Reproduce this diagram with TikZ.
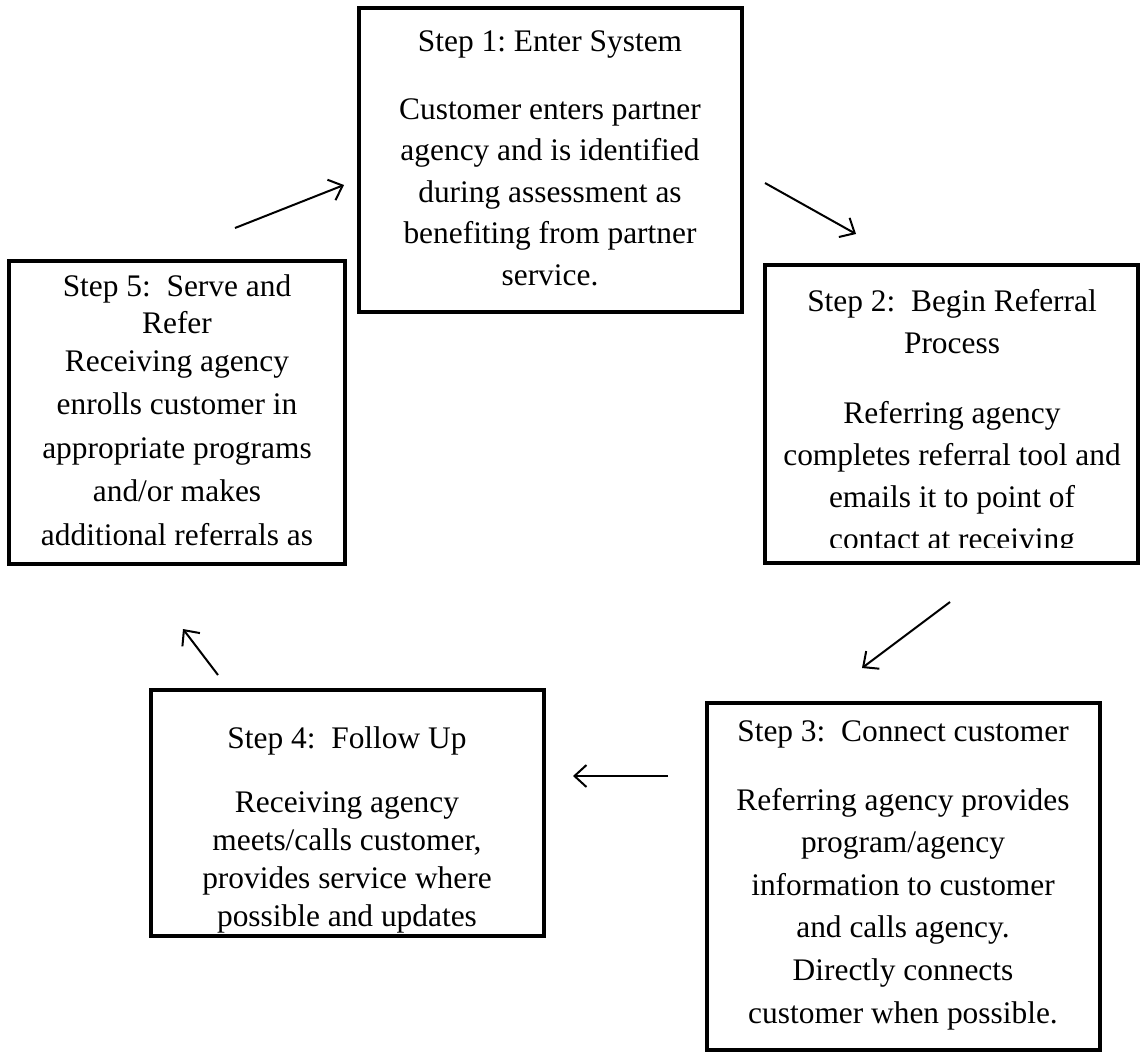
\documentclass[tikz,border=0pt]{standalone}
\usepackage{fontspec}
\setmainfont{Liberation Serif}
\usetikzlibrary{arrows.meta}
\frenchspacing
\begin{document}
\begin{tikzpicture}[x=1pt,y=-1pt,
  stepbox/.style={draw=black,line width=4pt,inner sep=0pt},
  txt/.style={anchor=base,inner sep=0pt,font=\fontsize{31.4}{41.5}\selectfont},
  flow/.style={line width=2pt,-{Straight Barb[length=12pt,width=22pt,line width=2pt]}}]
\useasboundingbox (0,0) rectangle (1141,1053);
\fill[white] (0,0) rectangle (1141,1053);
% boxes
\node[stepbox,minimum width=383pt,minimum height=304pt] (s1) at (550,160) {};
\node[stepbox,minimum width=373pt,minimum height=298pt] (s2) at (951.5,414) {};
\node[stepbox,minimum width=336pt,minimum height=303pt] (s5) at (177,412) {};
\node[stepbox,minimum width=393pt,minimum height=246pt] (s4) at (347,813) {};
\node[stepbox,minimum width=393pt,minimum height=347pt] (s3) at (903.5,876.5) {};
% Step 1
\node[txt] (s1t) at (550,51) {Step 1: Enter System};
\foreach \t [count=\i] in {Customer enters partner,agency and is identified,during assessment as,benefiting from partner,service.}
  \node[txt] (s1b\i) at (550,{119+(\i-1)*41.6}) {\t};
% Step 2
\node[txt] (s2t) at (952,311) {Step 2:~ Begin Referral};
\node[txt] (s2u) at (952,353) {Process};
\begin{scope}
\clip (765,265) rectangle (1138,547);
\foreach \t [count=\i] in {Referring agency,completes referral tool and,emails it to point of,contact at receiving}
  \node[txt] (s2b\i) at (952,{423+(\i-1)*42}) {\t};
\end{scope}
% Step 5
\node[txt] (s5t) at (177,296) {Step 5:~ Serve and};
\node[txt] (s5u) at (177,333) {Refer};
\foreach \t [count=\i] in {Receiving agency,enrolls customer in,appropriate programs,and/or makes,additional referrals as}
  \node[txt] (s5b\i) at (177,{371+(\i-1)*43.5}) {\t};
% Step 4
\node[txt] (s4t) at (347,748) {Step 4:~ Follow Up};
\foreach \t [count=\i] in {Receiving agency,{meets/calls customer,},provides service where,possible and updates}
  \node[txt] (s4b\i) at (347,{812+(\i-1)*38}) {\t};
% Step 3
\node[txt] (s3t) at (903,741) {Step 3:~ Connect customer};
\foreach \t [count=\i] in {Referring agency provides,program/agency,information to customer,and calls agency.,Directly connects,customer when possible.}
  \node[txt] (s3b\i) at (903,{810+(\i-1)*42.6}) {\t};
% arrow end points
\coordinate (a1s) at (235,228); \coordinate (a1e) at (344,185);
\coordinate (a2s) at (765,183); \coordinate (a2e) at (856,234);
\coordinate (a3s) at (950,602); \coordinate (a3e) at (862,668);
\coordinate (a4s) at (668,776); \coordinate (a4e) at (573,776);
\coordinate (a5s) at (218,675); \coordinate (a5e) at (183,629);
\draw[flow] (a1s) -- (a1e);
\draw[flow] (a2s) -- (a2e);
\draw[flow] (a3s) -- (a3e);
\draw[flow] (a4s) -- (a4e);
\draw[flow] (a5s) -- (a5e);
\end{tikzpicture}
\end{document}
